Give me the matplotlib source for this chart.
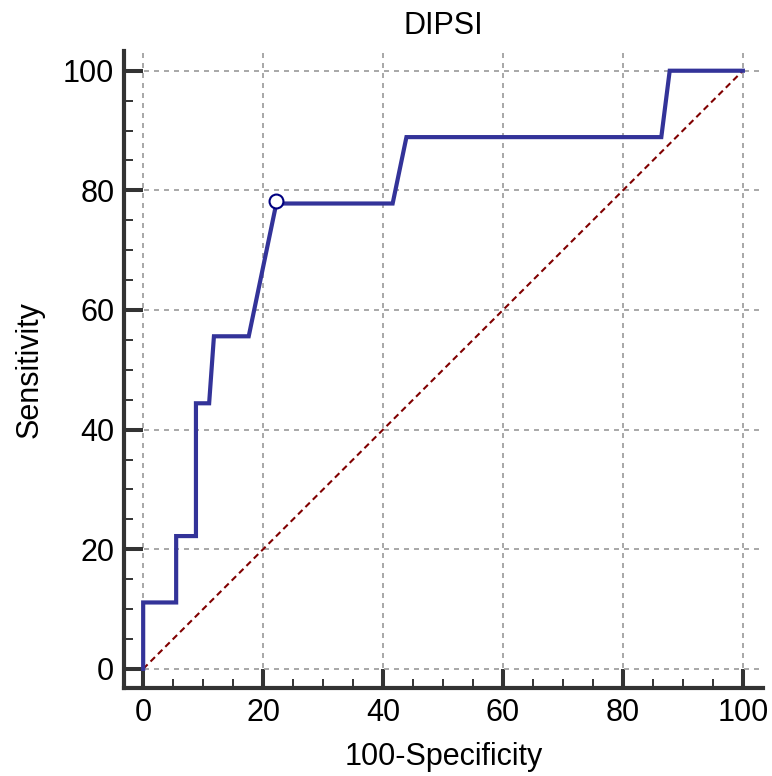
import matplotlib
matplotlib.use("Agg")
import matplotlib.pyplot as plt
from matplotlib.ticker import MultipleLocator

plt.rcParams['font.family'] = ['Liberation Sans', 'DejaVu Sans']

# ROC curve points (100-Specificity, Sensitivity)
fpr = [0, 0, 5.5, 5.5, 8.8, 8.8, 11.0, 11.8, 17.6, 22.2, 41.6, 43.9, 86.4, 87.8, 100]
tpr = [0, 11.1, 11.1, 22.2, 22.2, 44.4, 44.4, 55.6, 55.6, 77.8, 77.8, 88.9, 88.9, 100, 100]

# optimal cut-off point
cut_x = [22.2]
cut_y = [78.2]

fig = plt.figure(figsize=(7.72, 7.76), dpi=100)
ax = fig.add_axes([0.1606, 0.1134, 0.8273, 0.8209])

ax.plot([0, 100], [0, 100], color='#800000', lw=1.5, ls=(0, (3, 2)), zorder=2)
ax.plot(fpr, tpr, color='#333399', lw=3, zorder=3, solid_joinstyle='miter')
ax.plot(cut_x, cut_y, 'o', ms=10, mfc='white', mec='#000080', mew=1.5, zorder=4)

ax.set_xlim(-3.2, 103.3)
ax.set_ylim(-3.2, 103.3)

for s in ['top', 'right']:
    ax.spines[s].set_visible(False)
for s in ['left', 'bottom']:
    ax.spines[s].set_linewidth(3)
    ax.spines[s].set_color('#333333')

ax.xaxis.set_major_locator(MultipleLocator(20))
ax.yaxis.set_major_locator(MultipleLocator(20))
ax.xaxis.set_minor_locator(MultipleLocator(5))
ax.yaxis.set_minor_locator(MultipleLocator(5))

ax.tick_params(which='major', direction='in', length=13.7, width=2.9,
               color='#333333', labelsize=22, pad=7)
ax.tick_params(which='minor', direction='in', length=6.5, width=1.4,
               color='#333333')

ax.grid(True, which='major', color='#999999', ls=(0, (3, 3)), lw=1.2, zorder=1)
ax.set_axisbelow(True)

ax.set_title('DIPSI', fontsize=22, pad=12)
ax.set_xlabel('100-Specificity', fontsize=22, labelpad=10)
ax.set_ylabel('Sensitivity', fontsize=22, labelpad=13)

fig.savefig('out.png', dpi=100)
